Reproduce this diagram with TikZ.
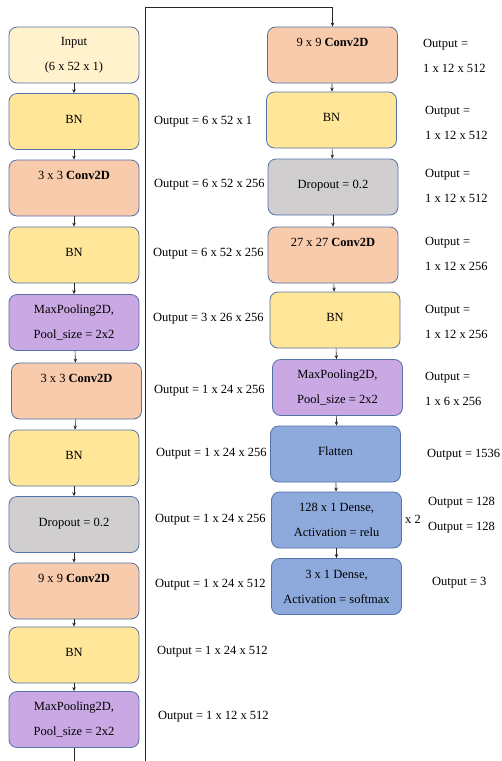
\documentclass[tikz,border=0pt]{standalone}
\usepackage{fontspec}
\setmainfont{Liberation Serif}
\usetikzlibrary{arrows.meta,positioning}
\definecolor{edge}{RGB}{84,114,166}
\definecolor{cream}{HTML}{FFF2CC}
\definecolor{bnyellow}{HTML}{FFE699}
\definecolor{convpeach}{HTML}{F8CBAD}
\definecolor{poolpurple}{HTML}{C9A8E3}
\definecolor{dropgray}{HTML}{D0CECE}
\definecolor{denseblue}{HTML}{8EA9DB}
\tikzset{
    layer/.style={
        draw=edge,
        line width=0.8pt,
        rounded corners=8pt,
        minimum width=130pt,
        minimum height=56pt,
        align=center,
        font=\fontsize{12.5}{25}\selectfont
    },
    % single line set a little above the middle
    raised/.style={text depth=5pt},
    % labels on the side of each layer
    outlabel/.style={
        anchor=west,
        align=left,
        inner sep=0pt,
        font=\fontsize{12.5}{25}\selectfont
    },
    flowarrow/.style={
        line width=0.6pt,
        black!85,
        -{Stealth[length=4pt, width=3.5pt]}
    }
}

\begin{document}
\begin{tikzpicture}[x=1pt,y=-1pt]
	\useasboundingbox (0,0) rectangle (502,761);
	\clip (0,0) rectangle (502,761);
	
	% left column
	\node[layer,fill=cream] (in0) at (74,55) {Input\\(6 x 52 x 1)};
	\node[layer,raised,fill=bnyellow] (bn1) at (74,121.5) {BN};
	\node[layer,fill=convpeach] (conv1) at (74,188) {3 x 3 \textbf{Conv2D}\\\mbox{}};
	\node[layer,raised,fill=bnyellow] (bn2) at (74,255) {BN};
	\node[layer,fill=poolpurple] (pool1) at (74,322.5) {MaxPooling2D,\\Pool\_size = 2x2};
	\node[layer,fill=convpeach] (conv2) at (76.5,391) {3 x 3 \textbf{Conv2D}\\\mbox{}};
	\node[layer,raised,fill=bnyellow] (bn3) at (74,458) {BN};
	\node[layer,raised,fill=dropgray] (drop1) at (74,524.5) {Dropout = 0.2};
	\node[layer,fill=convpeach] (conv3) at (74,591) {9 x 9 \textbf{Conv2D}\\\mbox{}};
	\node[layer,raised,fill=bnyellow] (bn4) at (74,655) {BN};
	\node[layer,fill=poolpurple] (pool2) at (74,719.5) {MaxPooling2D,\\Pool\_size = 2x2};
	
	% right column
	\node[layer,fill=convpeach] (conv4) at (332.5,55) {9 x 9 \textbf{Conv2D}\\\mbox{}};
	\node[layer,raised,fill=bnyellow] (bn5) at (331.5,120) {BN};
	\node[layer,raised,fill=dropgray] (drop2) at (333,187) {Dropout = 0.2};
	\node[layer,fill=convpeach] (conv5) at (333,255) {27 x 27 \textbf{Conv2D}\\\mbox{}};
	\node[layer,raised,fill=bnyellow] (bn6) at (335,320) {BN};
	\node[layer,fill=poolpurple] (pool3) at (337.5,387.5) {MaxPooling2D,\\Pool\_size = 2x2};
	\node[layer,raised,fill=denseblue] (flat) at (335.5,454) {Flatten};
	\node[layer,fill=denseblue] (dense1) at (336.5,520) {128 x 1 Dense,\\Activation = relu};
	\node[layer,fill=denseblue] (dense2) at (336.5,586.5) {3 x 1 Dense,\\Activation = softmax};
	
	% arrows inside each column
	\foreach \a/\b in {in0/bn1,bn1/conv1,conv1/bn2,bn2/pool1,pool1/conv2,conv2/bn3,bn3/drop1,drop1/conv3,conv3/bn4,bn4/pool2,
		conv4/bn5,bn5/drop2,drop2/conv5,conv5/bn6,bn6/pool3,pool3/flat,flat/dense1,dense1/dense2}
		\draw[flowarrow] (\a) -- (\b);
	
	% jump from the bottom of the left column to the top of the right one
	\coordinate (j1) at (74,775);
	\coordinate (j2) at (145,775);
	\coordinate (j3) at (145,7);
	\coordinate (j4) at (conv4.north |- j3);
	\draw[flowarrow] (pool2) -- (j1) -- (j2) -- (j3) -- (j4) -- (conv4);
	
	% output shapes, left column
	\node[outlabel] (o1) at (154,122) {Output = 6 x 52 x 1};
	\node[outlabel] (o2) at (154,185) {Output = 6 x 52 x 256};
	\node[outlabel] (o3) at (153,254) {Output = 6 x 52 x 256};
	\node[outlabel] (o4) at (153,319) {Output = 3 x 26 x 256};
	\node[outlabel] (o5) at (154,391) {Output = 1 x 24 x 256};
	\node[outlabel] (o6) at (156,454) {Output = 1 x 24 x 256};
	\node[outlabel] (o7) at (155,520) {Output = 1 x 24 x 256};
	\node[outlabel] (o8) at (155,585) {Output = 1 x 24 x 512};
	\node[outlabel] (o9) at (157,652) {Output = 1 x 24 x 512};
	\node[outlabel] (o10) at (158,717) {Output = 1 x 12 x 512};
	
	% output shapes, right column
	\node[outlabel] (o11) at (423,55.5) {Output =\\1 x 12 x 512};
	\node[outlabel] (o12) at (425,122.5) {Output =\\1 x 12 x 512};
	\node[outlabel] (o13) at (425,185.5) {Output =\\1 x 12 x 512};
	\node[outlabel] (o14) at (425,254) {Output =\\1 x 12 x 256};
	\node[outlabel] (o15) at (425,321.5) {Output =\\1 x 12 x 256};
	\node[outlabel] (o16) at (425,388.5) {Output =\\1 x 6 x 256};
	\node[outlabel] (o17) at (427,455) {Output = 1536};
	\node[outlabel] (o18) at (428,515.5) {Output = 128\\Output = 128};
	\node[outlabel] (rep) at (405,519) {x 2};
	\node[outlabel] (o19) at (432,583) {Output = 3};
\end{tikzpicture}
\end{document}
